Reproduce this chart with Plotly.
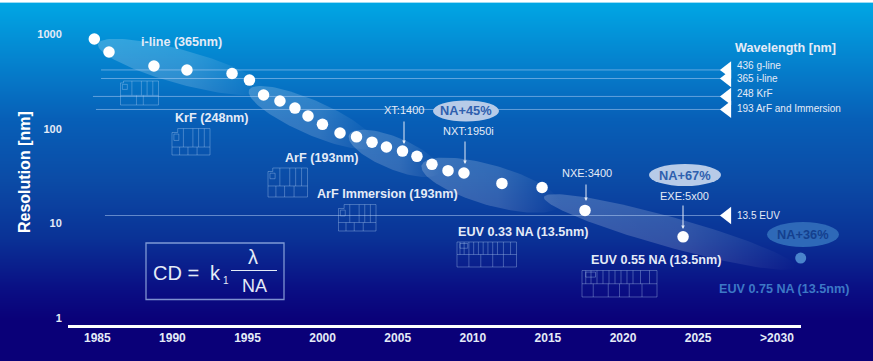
import math
import plotly.graph_objects as go

W, H = 873, 361

# ---- data
years = [1984.8, 1985.78, 1988.77, 1990.97, 1993.97, 1995.13, 1996.07, 1997.16, 1998.16, 1999.03,
         1999.99, 2001.16, 2002.26, 2003.29, 2004.25, 2005.32, 2006.28, 2007.28, 2008.35, 2009.41,
         2011.94, 2014.61, 2017.47, 2024.0]
resolution_nm = [885, 645, 459, 417, 383, 326, 227, 196, 165, 136,
                 111, 90, 82, 72, 64, 58, 51, 42, 36, 34,
                 26.4, 23.9, 13.7, 7.2]
future_year = [2031.83]
future_nm = [4.3]

x_tick_vals = [1985, 1990, 1995, 2000, 2005, 2010, 2015, 2020, 2025, 2030.25]
x_tick_text = ["1985", "1990", "1995", "2000", "2005", "2010", "2015", "2020", "2025", ">2030"]
y_tick_vals = [1, 10, 100, 1000]
y_tick_text = ["1", "10", "100", "1000"]

wavelength_labels = ["436 g-line", "365 i-line", "248 KrF", "193 ArF and Immersion", "13.5 EUV"]
wavelength_levels = [417, 339, 219, 159.5, 12.1]
wavelength_starts = [1985.25, 1985.25, 1984.71, 1984.91, 1985.51]
wavelength_end = 2026.5
wavelength_marker_year = 2026.95

band_start_year = [1985.05, 1995.1, 2001.76, 2006.6, 2014.74]
band_start_nm = [784, 256, 86, 41, 19]
band_end_year = [1996.17, 2003.49, 2007.8, 2015.8, 2031.5]
band_end_nm = [256, 67, 35, 15.6, 3.46]
band_half_width_px = [17, 17, 16, 20, 15]

# ---- axis scale
X_LEFT, X_RIGHT, Y_AXIS = 68, 801, 325
PX_PER_YEAR = 15.02
PX_PER_DECADE = 94.67
year_range = [1985 + (X_LEFT - 97.3) / PX_PER_YEAR, 1985 + (X_RIGHT - 97.3) / PX_PER_YEAR]
log_range = [(318 - Y_AXIS) / PX_PER_DECADE, 318 / PX_PER_DECADE]

INK = "#e4ebf7"
FONT = "Liberation Sans"

gradient = [[0, "#ffffff"], [0.004, "#ffffff"], [0.008, "#00a6e4"], [0.17, "#0582ce"], [0.33, "#075fb7"],
            [0.5, "#0b4ba6"], [0.66, "#0a3296"], [0.8, "#0a0f84"], [0.89, "#0a0078"], [1, "#0a0078"]]

fig = go.Figure()
fig.add_trace(go.Heatmap(z=[[r / (H - 1)] for r in range(H)], y=[r + 0.5 for r in range(H)], x=[0.5],
                         colorscale=gradient, zmin=0, zmax=1, showscale=False, hoverinfo="skip",
                         xaxis="x", yaxis="y"))

# bands
for x0, n0, x1, n1, hw in zip(band_start_year, band_start_nm, band_end_year, band_end_nm, band_half_width_px):
    l0, l1 = math.log10(n0), math.log10(n1)
    cx, cl = (x0 + x1) / 2, (l0 + l1) / 2
    ux, ul = (x1 - x0) / 2, (l1 - l0) / 2
    dx, dy = ux * PX_PER_YEAR, ul * PX_PER_DECADE
    norm = math.hypot(dx, dy)
    vx, vl = (-dy / norm * hw) / PX_PER_YEAR, (dx / norm * hw) / PX_PER_DECADE
    xs, ys = [], []
    for i in range(121):
        t = 2 * math.pi * i / 120
        xs.append(cx + math.cos(t) * ux + math.sin(t) * vx)
        ys.append(10 ** (cl + math.cos(t) * ul + math.sin(t) * vl))
    fig.add_trace(go.Scatter(x=xs, y=ys, mode="lines", line=dict(width=0), fill="toself",
                             fillgradient=dict(type="horizontal", colorscale=[
                                 [0, "rgba(255,255,255,0.2)"], [0.55, "rgba(255,255,255,0.16)"],
                                 [1, "rgba(255,255,255,0)"]]),
                             hoverinfo="skip", xaxis="x2", yaxis="y2"))

# wavelength lines
for lvl, start in zip(wavelength_levels, wavelength_starts):
    fig.add_trace(go.Scatter(x=[start, wavelength_end], y=[lvl, lvl], mode="lines",
                             line=dict(color="rgba(190,215,250,0.5)", width=1),
                             hoverinfo="skip", xaxis="x2", yaxis="y2"))
fig.add_trace(go.Scatter(x=[wavelength_marker_year] * len(wavelength_levels), y=wavelength_levels, mode="markers",
                         marker=dict(symbol="triangle-left", size=15, color="white", line=dict(width=0)),
                         cliponaxis=False, hoverinfo="skip", xaxis="x2", yaxis="y2"))

# points
fig.add_trace(go.Scatter(x=years, y=resolution_nm, mode="markers",
                         marker=dict(size=11.5, color="white", line=dict(width=0)),
                         cliponaxis=False, xaxis="x2", yaxis="y2"))
fig.add_trace(go.Scatter(x=future_year, y=future_nm, mode="markers",
                         marker=dict(size=11, color="#4a84cc", line=dict(width=0)),
                         cliponaxis=False, xaxis="x2", yaxis="y2"))


def px(x):
    return x / W


def py(y):
    return 1 - y / H


annotations, shapes = [], []


def label(text, x, y, size=12, bold=False, color=INK, anchor="left", angle=0):
    if anchor == "left":
        x -= 2
    annotations.append(dict(text=f"<b>{text}</b>" if bold else text, x=px(x), y=py(y), xref="paper", yref="paper",
                            xanchor=anchor, yanchor="middle", showarrow=False, textangle=angle,
                            font=dict(family=FONT, size=size, color=color)))


def arrow(x, y0, y1):
    annotations.append(dict(text="", x=px(x), y=py(y1), xref="paper", yref="paper", ax=0, ay=y0 - y1,
                            showarrow=True, arrowhead=2, arrowsize=0.7, arrowwidth=1, arrowcolor=INK))


def pill(text, cx, cy, rx, ry, fill, color):
    shapes.append(dict(type="circle", xref="paper", yref="paper", x0=px(cx - rx), x1=px(cx + rx),
                       y0=py(cy + ry), y1=py(cy - ry), fillcolor=fill, line=dict(width=0)))
    label(text, cx, cy, 12.8, True, color, "center")


def chip(x0, y0, x1, y1, verticals, lows, split, notch, color="rgba(190,215,250,0.42)"):
    w, h = x1 - x0, y1 - y0
    segs = []

    def pt(u, v):
        return f"{px(x0 + u * w):.5f},{py(y0 + v * h):.5f}"

    segs.append(f"M{pt(0, notch)} L{pt(notch, notch)} L{pt(notch, 0)} L{pt(1, 0)} L{pt(1, 1)} L{pt(0, 1)} Z")
    segs.append(f"M{pt(0, split)} L{pt(1, split)}")
    for u in verticals:
        segs.append(f"M{pt(u, 0)} L{pt(u, split)}")
    for u in lows:
        segs.append(f"M{pt(u, split)} L{pt(u, 1)}")
    segs.append(f"M{pt(0.05, notch + 0.06)} L{pt(0.18, notch + 0.06)} L{pt(0.18, split - 0.25)} L{pt(0.05, split - 0.25)} Z")
    shapes.append(dict(type="path", path=" ".join(segs), xref="paper", yref="paper", line=dict(color=color, width=0.8)))


duv_v, duv_l = [0.3, 0.55, 0.7, 0.85], [0.2, 0.42, 0.66]
chip(120.5, 81, 158.5, 105, duv_v, [0.42, 0.6], 0.6, 0.08)
chip(172, 128.5, 210, 155, duv_v, duv_l, 0.7, 0.15)
chip(268, 168, 307.5, 197, duv_v, duv_l, 0.62, 0.12)
chip(338.5, 204.5, 376, 231, duv_v, duv_l, 0.68, 0.15)
euv_v = [0.05, 0.12, 0.2, 0.28, 0.36, 0.44, 0.52, 0.6, 0.68, 0.78, 0.9]
chip(457, 242, 516.5, 267, euv_v, [0.2, 0.4, 0.6, 0.78], 0.5, 0.0)
chip(582, 270.5, 657, 297, euv_v, [0.15, 0.35, 0.5, 0.63, 0.8], 0.5, 0.0)

# series labels
LABEL_SIZE = 12.6
label("i-line (365nm)", 141, 42.5, LABEL_SIZE, True)
label("KrF (248nm)", 175, 117.5, LABEL_SIZE, True)
label("ArF (193nm)", 285, 158, LABEL_SIZE, True)
label("ArF Immersion (193nm)", 317, 193.5, LABEL_SIZE, True)
label("EUV 0.33 NA (13.5nm)", 458, 232, LABEL_SIZE, True)
label("EUV 0.55 NA (13.5nm)", 591, 260, LABEL_SIZE, True)
label("EUV 0.75 NA (13.5nm)", 719, 289, LABEL_SIZE, True, "#3c78c6")

# machine labels
label("XT:1400", 404, 110, 11, False, INK, "center")
label("NXT:1950i", 468, 131, 11, False, INK, "center")
label("NXE:3400", 587, 173, 11, False, INK, "center")
label("EXE:5x00", 684, 196, 11, False, INK, "center")
arrow(404, 120, 144)
arrow(465, 140, 164)
arrow(586, 183, 201)
arrow(683, 204, 229)

pill("NA+45%", 466, 111, 33, 10.5, "#b7cbe8", "#2f5fae")
pill("NA+67%", 685, 175, 36, 11, "#b7cbe8", "#2f5fae")
pill("NA+36%", 803, 234.5, 36, 12.5, "#2e69b8", "#14408f")

# wavelength legend
label("Wavelength [nm]", 735, 48, LABEL_SIZE, True)
for name, y in zip(wavelength_labels, [65.5, 78.5, 94, 108, 215.5]):
    label(name, 737, y, 10)

# axis title
label("Resolution [nm]", 24, 172, 16, True, "white", "center", -90)

# formula
shapes.append(dict(type="rect", xref="paper", yref="paper", x0=px(146), x1=px(284), y0=py(299.5), y1=py(243),
                   line=dict(color="rgba(165,190,235,0.75)", width=1.3)))
shapes.append(dict(type="line", xref="paper", yref="paper", x0=px(231), x1=px(277), y0=py(270.5), y1=py(270.5),
                   line=dict(color=INK, width=1)))
label("CD =", 153, 273, 20)
label("k", 210, 273, 20)
label("1", 223, 280, 10)
label("λ", 253, 257, 20, False, INK, "center")
label("NA", 254, 286, 18, False, INK, "center")

fig.update_layout(
    width=W, height=H, margin=dict(l=0, r=0, t=0, b=0, pad=0), showlegend=False,
    paper_bgcolor="#0a0078", plot_bgcolor="rgba(0,0,0,0)",
    annotations=annotations, shapes=shapes,
    xaxis=dict(domain=[0, 1], range=[0, 1], visible=False, fixedrange=True),
    yaxis=dict(domain=[0, 1], range=[H, 0], visible=False, fixedrange=True),
    xaxis2=dict(domain=[X_LEFT / W, X_RIGHT / W], range=year_range, anchor="y2", showgrid=False, zeroline=False,
                showline=True, linecolor="white", linewidth=3, tickmode="array", tickvals=x_tick_vals,
                ticktext=x_tick_text, ticks="", tickangle=0,
                tickfont=dict(family=FONT, size=12, color=INK, weight="bold")),
    yaxis2=dict(domain=[1 - Y_AXIS / H, 1], type="log", range=log_range, anchor="x2", showgrid=False, zeroline=False,
                showline=False, tickmode="array", tickvals=y_tick_vals, ticktext=y_tick_text,
                ticks="outside", ticklen=3, tickcolor="rgba(0,0,0,0)",
                tickfont=dict(family=FONT, size=11, color=INK, weight="bold")),
    font=dict(family=FONT),
)

fig.write_html("out.html", config=dict(displayModeBar=False),
               post_script="document.body.style.margin='0';document.body.style.overflow='hidden';")
